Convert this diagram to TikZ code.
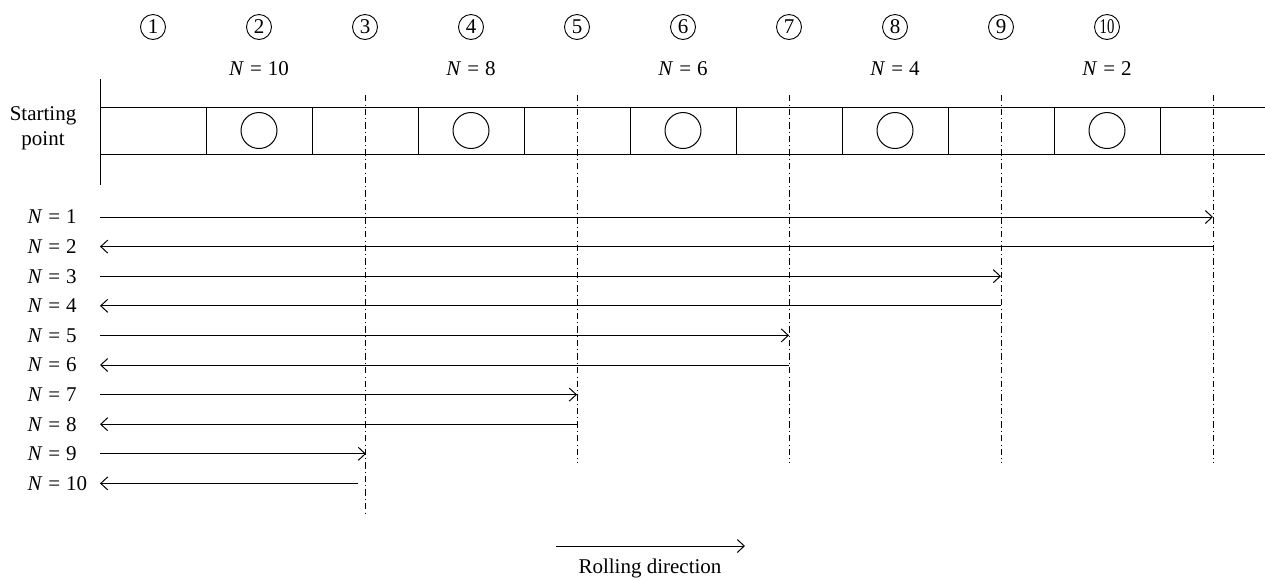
\documentclass[tikz,border=0pt]{standalone}
\usepackage{fontspec}
\setmainfont{Liberation Serif}
\usetikzlibrary{arrows.meta}
\newcommand{\eqN}[1]{\textit{N}\hspace{0.28em}=\hspace{0.28em}#1}
\begin{document}
\begin{tikzpicture}[x=0.5pt,y=-0.5pt,
  line width=0.5pt,
  txt/.style={font=\fontsize{10.5}{12.5}\selectfont, inner sep=0pt},
  num/.style={draw, circle, minimum size=12.5pt, inner sep=0pt, line width=0.45pt,
              font=\fontsize{10.5}{11}\selectfont},
  hole/.style={draw, circle, minimum size=18pt, inner sep=0pt},
  pass/.style={-{Straight Barb[length=3.5pt,width=6.5pt]}},
  guide/.style={line width=0.45pt, dash pattern=on 3.2pt off 1.6pt on 0.4pt off 1.6pt},
]
\useasboundingbox (0,0) rectangle (1265,580);

% stand numbers above the strip
\foreach \i in {1,...,9}
  \node[num] (st\i) at ({100+106*(\i-0.5)},27) {\i};
\node[num] (st10) at ({100+106*9.5},27) {\scalebox{0.7}[1]{10}};

% pass counts above the stands
\foreach \k/\c in {10/2,8/4,6/6,4/8,2/10}
  \node[txt] (top\k) at ({100+106*(\c-0.5)},69) {\eqN{\k}};

% starting line and the strip with its cells
\node[txt, align=center] (start) at (43,128) {Starting\\point};
\draw (100,79) -- (100,185);
\draw (100,107) -- (1265,107) (100,154) -- (1265,154);
\foreach \j in {1,...,10}
  \draw ({100+106*\j},107) -- ({100+106*\j},154);
\foreach \c in {2,4,6,8,10}
  \node[hole] (hole\c) at ({100+106*(\c-0.5)},130.5) {};

% dash-dot reversal lines
\foreach \c/\b in {3/515,5/463,7/463,9/463,11/463} {
  \coordinate (gt\c) at ({100+106*(\c-0.5)},95);
  \coordinate (gb\c) at ({100+106*(\c-0.5)},\b);
  \draw[guide] (gt\c) -- (gb\c);
}

% passes
\foreach \k/\x in {1/1213,2/1213,3/1001,4/1001,5/789,6/789,7/577,8/577,9/366,10/358} {
  \node[txt, anchor=west] (lab\k) at (27,{217+29.6*(\k-1)}) {\eqN{\k}};
  \coordinate (L\k) at (100,{217+29.6*(\k-1)});
  \coordinate (R\k) at (\x,{217+29.6*(\k-1)});
}
\foreach \k in {1,3,5,7,9}
  \draw[pass] (L\k) -- (R\k);
\foreach \k in {2,4,6,8,10}
  \draw[pass] (R\k) -- (L\k);

% rolling direction
\coordinate (rda) at (556,546);
\coordinate (rdb) at (745,546);
\draw[pass] (rda) -- (rdb);
\node[txt] (rdlab) at (650,568) {Rolling direction};
\end{tikzpicture}
\end{document}
